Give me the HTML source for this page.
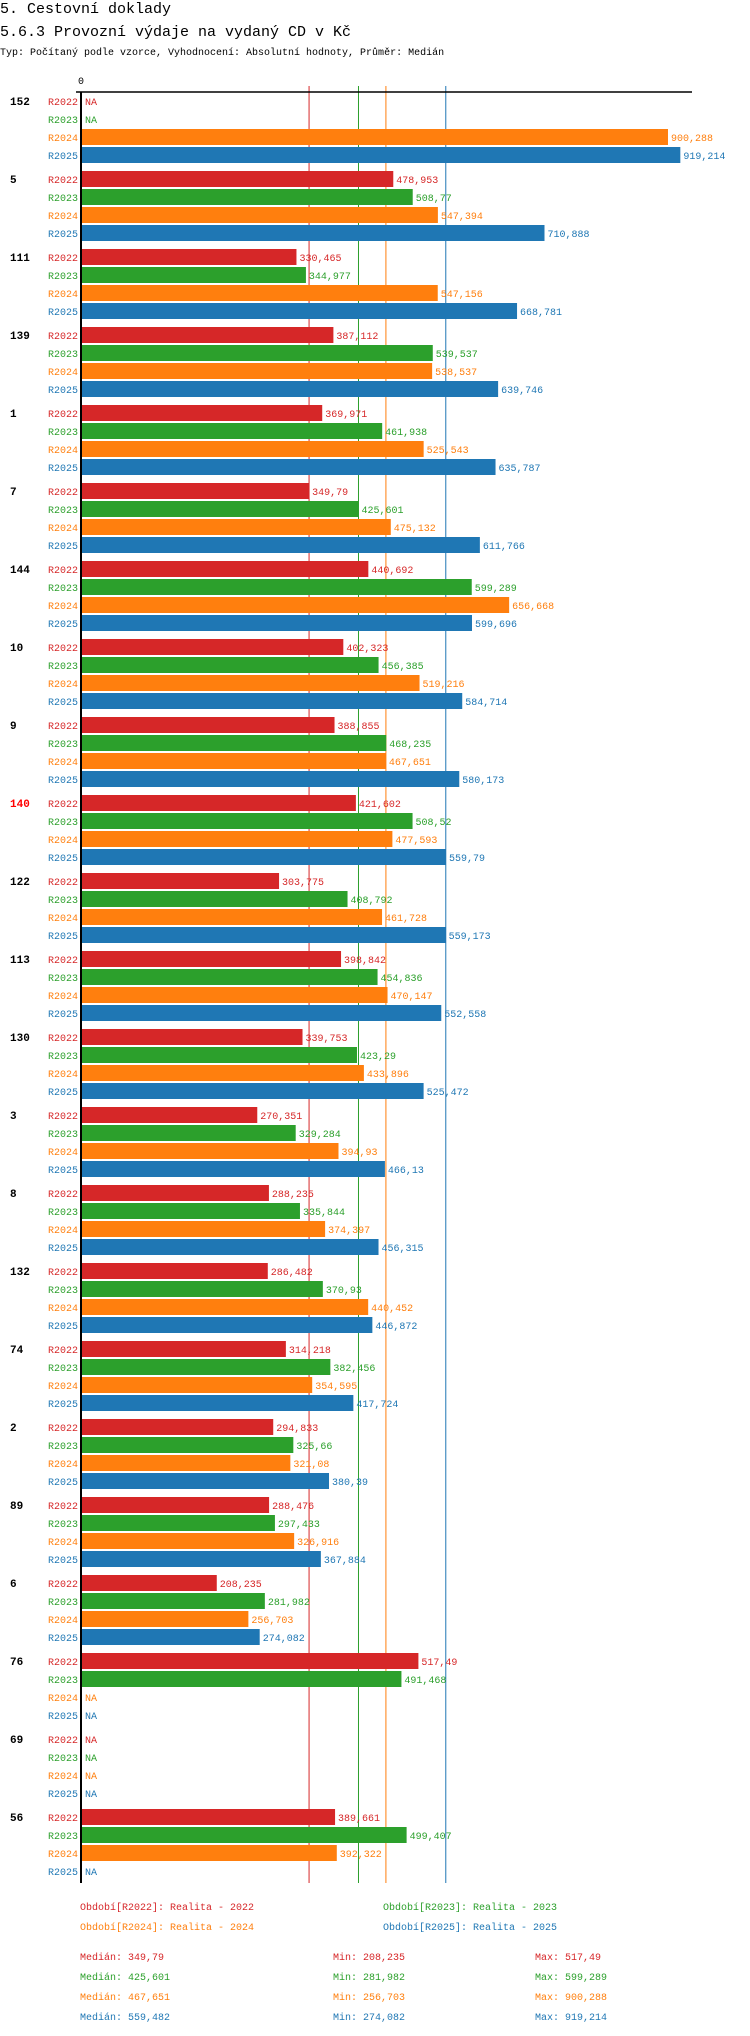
<!DOCTYPE html>
<html><head><meta charset="utf-8"><style>
body{margin:0;background:#fff}
svg{display:block;font-family:"Liberation Mono","DejaVu Sans Mono",monospace}
</style></head><body>
<svg id="c" width="750" height="2036" viewBox="0 0 750 2036">
<text x="0" y="13" font-size="15">5. Cestovní doklady</text>
<text x="0" y="36" font-size="15">5.6.3 Provozní výdaje na vydaný CD v Kč</text>
<text x="0" y="55" font-size="10">Typ: Počítaný podle vzorce, Vyhodnocení: Absolutní hodnoty, Průměr: Medián</text>
<text x="81" y="84" font-size="10" text-anchor="middle">0</text>
<g id="g"></g>
</svg>
<script>
const groups=["152","5","111","139","1","7","144","10","9","140","122","113","130","3","8","132","74","2","89","6","76","69","56"];
const periods=["R2022","R2023","R2024","R2025"];
const r2022=[null,478.953,330.465,387.112,369.971,349.79,440.692,402.323,388.855,421.602,303.775,398.842,339.753,270.351,288.235,286.482,314.218,294.833,288.476,208.235,517.49,null,389.661];
const r2023=[null,508.77,344.977,539.537,461.938,425.601,599.289,456.385,468.235,508.52,408.792,454.836,423.29,329.284,335.844,370.93,382.456,325.66,297.433,281.982,491.468,null,499.407];
const r2024=[900.288,547.394,547.156,538.537,525.543,475.132,656.668,519.216,467.651,477.593,461.728,470.147,433.896,394.93,374.397,440.452,354.595,321.08,326.916,256.703,null,null,392.322];
const r2025=[919.214,710.888,668.781,639.746,635.787,611.766,599.696,584.714,580.173,559.79,559.173,552.558,525.472,466.13,456.315,446.872,417.724,380.39,367.884,274.082,null,null,null];
const medians=[349.79,425.601,467.651,559.482];
const mins=[208.235,281.982,256.703,274.082];
const maxs=[517.49,599.289,900.288,919.214];
const series=[r2022,r2023,r2024,r2025];
const colors=["#d62728","#2ca02c","#ff7f0e","#1f77b4"];
const X0=81,K=0.652;
const x=v=>X0+v*K;
const rowY=(g,r)=>101+g*78+r*18;
const fmt=v=>String(v).replace('.',',');
const NS="http://www.w3.org/2000/svg";
const G=document.getElementById('g');
function mk(t,a,txt){const e=document.createElementNS(NS,t);for(const k in a)e.setAttribute(k,a[k]);if(txt!=null)e.textContent=txt;G.appendChild(e);return e;}
const yEnd=rowY(groups.length-1,3)+12;
medians.forEach((m,i)=>{
  const l=mk('line',{x1:x(m),x2:x(m),y1:86,y2:yEnd,stroke:colors[i],'stroke-width':1});
  
  
});
groups.forEach((gname,g)=>{
  const gl=mk('text',{x:10,y:rowY(g,0)+4,'font-size':11,'font-weight':'bold',fill:gname==="140"?"#ff0000":"#000"},gname);
  
  
  series.forEach((s,r)=>{
    const cy=rowY(g,r),v=s[g];
    const pl=mk('text',{x:78,y:cy+4,'font-size':10,'text-anchor':'end',fill:colors[r]},periods[r]);
    
    
    if(v==null){
      const na=mk('text',{x:85,y:cy+4,'font-size':10,fill:colors[r]},'NA');
      
      
    }else{
      const b=mk('rect',{x:X0,y:cy-8,width:x(v)-X0,height:16,fill:colors[r]});
      
      
      const vl=mk('text',{x:x(v)+3,y:cy+4,'font-size':10,fill:colors[r]},fmt(v));
      
      
    }
  });
});
const ax=mk('line',{x1:76,x2:692,y1:92,y2:92,stroke:'#000','stroke-width':1.5});


const ay=mk('line',{x1:81,x2:81,y1:92,y2:yEnd,stroke:'#000','stroke-width':2});


const legTxt=["Období[R2022]: Realita - 2022","Období[R2023]: Realita - 2023","Období[R2024]: Realita - 2024","Období[R2025]: Realita - 2025"];
legTxt.forEach((t,i)=>{
  const e=mk('text',{x:i%2?383:80,y:(i<2?1906:1926)+4,'font-size':10,fill:colors[i]},t);
  
  
});
[0,1,2,3].forEach(i=>{
  const y=1956+i*20+4;
  const a=mk('text',{x:80,y:y,'font-size':10,fill:colors[i]},'Medián: '+fmt(medians[i]));
  
  
  const b=mk('text',{x:333,y:y,'font-size':10,fill:colors[i]},'Min: '+fmt(mins[i]));
  
  
  const c=mk('text',{x:535,y:y,'font-size':10,fill:colors[i]},'Max: '+fmt(maxs[i]));
  
  
});
</script>
</body></html>
